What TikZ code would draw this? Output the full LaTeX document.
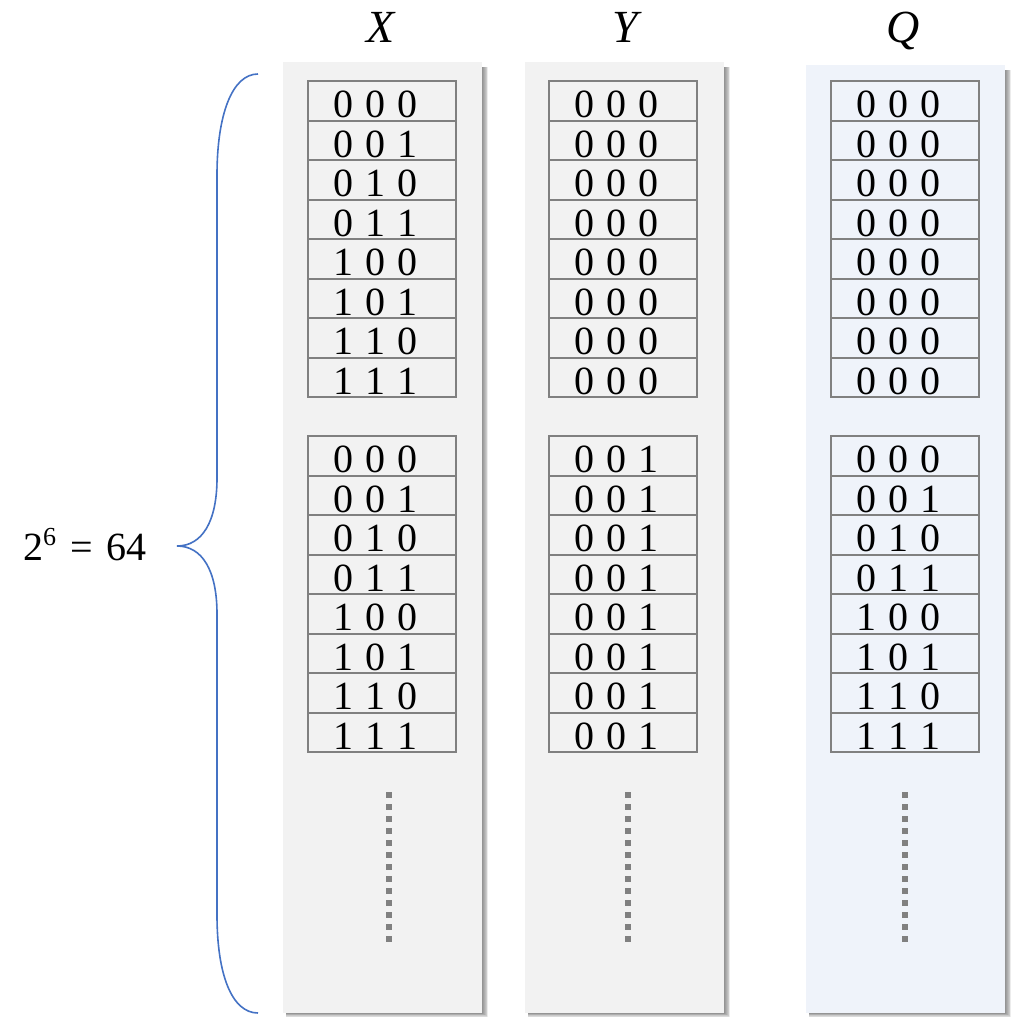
\documentclass[tikz,border=0pt]{standalone}
\usepackage{fontspec}
\setmainfont{Liberation Serif}
\usetikzlibrary{calc}
\definecolor{panelgray}{HTML}{F2F2F2}
\definecolor{panelblue}{HTML}{EFF3FA}
\definecolor{cellline}{HTML}{808080}
\definecolor{bracecol}{HTML}{4472C4}
\tikzset{
  panelbox/.style={fill=#1, draw=none},
  cellbox/.style={draw=cellline, line width=2pt, minimum width=148pt, minimum height=39.5pt,
    inner sep=0pt, outer sep=0pt, anchor=north west},
  celltext/.style={anchor=base, inner sep=0pt, font=\fontsize{40}{40}\selectfont},
  header/.style={anchor=base, inner sep=0pt, font=\fontsize{46}{46}\selectfont\itshape},
  dotcol/.style={draw=cellline, line width=6pt, dash pattern=on 6pt off 6pt},
}
% three bits printed with a space between them
\newcommand{\bitrow}[3]{#1\hspace{12pt}#2\hspace{12pt}#3}
\newcommand{\panelshadow}[4]{%
  \foreach \k in {1,...,7}{
    \fill[black, opacity=0.075] (#1+3,#2+5) rectangle (#3+\k*0.9,#4+\k*0.6);
  }}
\begin{document}
\begin{tikzpicture}[x=1pt, y=-1pt]
\useasboundingbox (0,0) rectangle (1015,1017);

% panels with soft shadows
\panelshadow{283}{62}{482}{1013}
\panelshadow{525}{62}{724}{1013}
\panelshadow{806}{65}{1005}{1013}
\fill[panelbox=panelgray] (283,62) rectangle (482,1013);
\fill[panelbox=panelgray] (525,62) rectangle (724,1013);
\fill[panelbox=panelblue] (806,65) rectangle (1005,1013);

% column headers
\node[header] (hx) at (381,42) {X};
\node[header] (hy) at (625,42) {Y};
\node[header] (hq) at (903,42) {Q};

% cell columns: name / left edge / group-1 contents / group-2 contents
\foreach \col/\xl/\first/\second in {
  x/308/{000,001,010,011,100,101,110,111}/{000,001,010,011,100,101,110,111},
  y/549/{000,000,000,000,000,000,000,000}/{001,001,001,001,001,001,001,001},
  q/831/{000,000,000,000,000,000,000,000}/{000,001,010,011,100,101,110,111}}{
  \foreach \v [count=\i] in \first {
    \node[cellbox] (\col-a-\i) at (\xl,{81+(\i-1)*39.5}) {};
    \node[celltext] (\col-a-\i-t) at ([xshift=-7pt,yshift=3pt]\col-a-\i.south)
      {\expandafter\bitrow\v};
  }
  \foreach \v [count=\i] in \second {
    \node[cellbox] (\col-b-\i) at (\xl,{436+(\i-1)*39.5}) {};
    \node[celltext] (\col-b-\i-t) at ([xshift=-7pt,yshift=3pt]\col-b-\i.south)
      {\expandafter\bitrow\v};
  }
}

% vertical ellipses under each column
\draw[dotcol] (389,792) -- (389,942);
\draw[dotcol] (628,792) -- (628,942);
\draw[dotcol] (905,792) -- (905,942);

% curly brace spanning all rows
\coordinate (btop) at (258,74);
\coordinate (btip) at (177,546);
\coordinate (bbot) at (258,1013);
\draw[bracecol, line width=1.6pt]
  (btop) .. controls (232,74) and (217,115) .. (217,175)
  -- (217,478) .. controls (217,522) and (202,546) .. (btip)
  .. controls (202,546) and (217,570) .. (217,614)
  -- (217,915) .. controls (217,975) and (232,1013) .. (bbot);

% number of rows
\node[anchor=base, inner sep=0pt, font=\fontsize{40}{40}\selectfont] (cnt) at (85,560)
  {2\raisebox{15pt}{\fontsize{26}{26}\selectfont 6}\hspace{14pt}=\hspace{14pt}64};
\end{tikzpicture}
\end{document}
